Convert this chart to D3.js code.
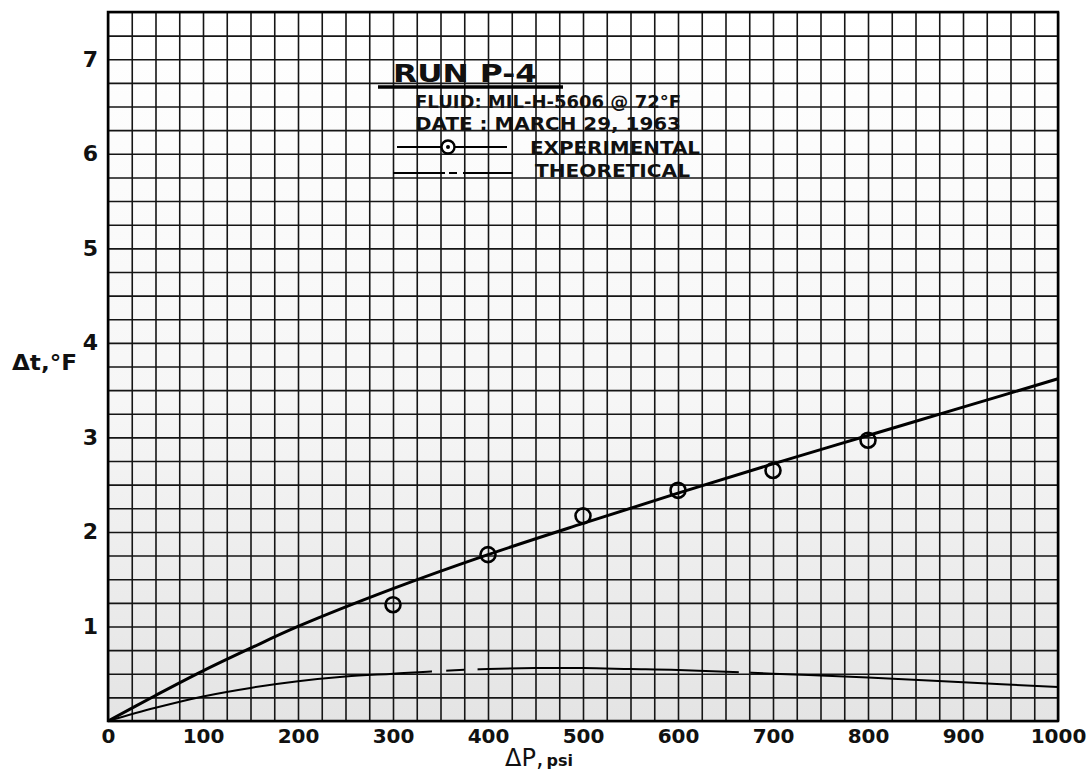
<!DOCTYPE html>
<html>
<head>
<meta charset="utf-8">
<script src="https://cdn.jsdelivr.net/npm/d3@7"></script>
<style>
  body { margin: 0; background: #fff; }
  text { font-family: "DejaVu Sans", sans-serif; fill: #111; }
</style>
</head>
<body>
<div id="chart"></div>
<script>
// Run P-4 : temperature rise vs pressure drop
var pressureTicks = [0, 100, 200, 300, 400, 500, 600, 700, 800, 900, 1000];
var tempTicks = [1, 2, 3, 4, 5, 6, 7];

// experimental points (circles)
var expPressure = [300, 400, 500, 600, 700, 800];
var expTemp = [1.23, 1.76, 2.17, 2.44, 2.65, 2.97];

// faired curve through the experimental data
var fitPressure = [0, 50, 100, 150, 200, 300, 400, 500, 600, 700, 800, 900, 1000];
var fitTemp = [0, 0.27, 0.53, 0.77, 1.0, 1.40, 1.76, 2.09, 2.41, 2.72, 3.02, 3.32, 3.62];

// theoretical curve
var theoPressure = [0, 50, 100, 150, 200, 250, 300, 350, 400, 450, 500, 550, 600, 700, 800, 900, 1000];
var theoTemp = [0, 0.14, 0.26, 0.35, 0.42, 0.47, 0.50, 0.53, 0.55, 0.56, 0.56, 0.55, 0.54, 0.50, 0.46, 0.41, 0.36];
// pieces of the theoretical line that were actually inked (psi ranges)
var theoPieces = [[0, 341], [356, 375], [389, 664], [676, 1000]];

var margin = {top: 12, right: 30, bottom: 55, left: 108},
    width = 1088 - margin.left - margin.right,
    height = 776 - margin.top - margin.bottom;

var x = d3.scaleLinear().domain([0, 1000]).range([0, width]);
var y = d3.scaleLinear().domain([0, 7.5]).range([height, 0]);

var svg = d3.select("#chart").append("svg")
    .attr("width", 1088)
    .attr("height", 776)
  .append("g")
    .attr("transform", "translate(" + margin.left + "," + margin.top + ")");

// paper tint, darker toward the bottom like the scan
var defs = svg.append("defs");
var grad = defs.append("linearGradient")
    .attr("id", "paper")
    .attr("x1", 0).attr("y1", 0).attr("x2", 0).attr("y2", 1);
grad.append("stop").attr("offset", "0%").attr("stop-color", "#ffffff");
grad.append("stop").attr("offset", "55%").attr("stop-color", "#f6f6f6");
grad.append("stop").attr("offset", "100%").attr("stop-color", "#e4e4e4");

svg.append("rect")
    .attr("width", width)
    .attr("height", height)
    .style("fill", "url(#paper)");

// graph paper grid: 25 psi by 0.25 deg
svg.append("g")
    .attr("class", "grid-x")
    .attr("transform", "translate(0," + height + ")")
    .call(d3.axisBottom(x).tickValues(d3.range(0, 1001, 25)).tickSize(-height).tickFormat(""))
    .call(function(g) { g.select(".domain").remove(); })
    .selectAll("line")
        .style("stroke", "#151515")
        .style("stroke-width", 1.6);

svg.append("g")
    .attr("class", "grid-y")
    .call(d3.axisLeft(y).tickValues(d3.range(0, 7.51, 0.25)).tickSize(-width).tickFormat(""))
    .call(function(g) { g.select(".domain").remove(); })
    .selectAll("line")
        .style("stroke", "#151515")
        .style("stroke-width", 1.6);

svg.append("rect")
    .attr("width", width)
    .attr("height", height)
    .style("fill", "none")
    .style("stroke", "#000")
    .style("stroke-width", 2.5);

// tick labels
svg.append("g")
    .attr("transform", "translate(0," + height + ")")
    .call(d3.axisBottom(x).tickValues(pressureTicks).tickSize(0).tickPadding(7).tickFormat(d3.format("d")))
    .call(function(g) { g.select(".domain").remove(); })
    .selectAll("text")
        .style("font-size", "20px")
        .style("font-weight", "bold")
        .attr("dy", "0.75em");

svg.append("g")
    .call(d3.axisLeft(y).tickValues(tempTicks).tickSize(0).tickPadding(10).tickFormat(d3.format("d")))
    .call(function(g) { g.select(".domain").remove(); })
    .selectAll("text")
        .style("font-size", "22px")
        .style("font-weight", "bold");

// axis titles
svg.append("text")
    .attr("x", 12 - margin.left)
    .attr("y", 370 - margin.top)
    .attr("textLength", 65)
    .attr("lengthAdjust", "spacingAndGlyphs")
    .style("font-size", "22px")
    .style("font-weight", "bold")
    .text("\u0394t,\u00b0F");

var xt = svg.append("text")
    .attr("x", 505 - margin.left)
    .attr("y", 766 - margin.top);
xt.append("tspan").style("font-size", "24px").text("\u0394P,");
xt.append("tspan").style("font-size", "16px").style("font-weight", "bold").attr("dx", 3).text("psi");

// faired experimental curve
var fitData = fitPressure.map(function(p, i) { return {p: p, t: fitTemp[i]}; });
var line = d3.line()
    .x(function(d) { return x(d.p); })
    .y(function(d) { return y(d.t); })
    .curve(d3.curveCatmullRom.alpha(0.5));

svg.append("path")
    .datum(fitData)
    .attr("d", line)
    .style("fill", "none")
    .style("stroke", "#000")
    .style("stroke-width", 3);

// theoretical curve, clipped into the drawn pieces
var clip = defs.append("clipPath").attr("id", "theo-clip");
clip.selectAll("rect")
    .data(theoPieces)
  .enter().append("rect")
    .attr("x", function(d) { return x(d[0]); })
    .attr("width", function(d) { return x(d[1]) - x(d[0]); })
    .attr("y", -5)
    .attr("height", height + 10);

var theoData = theoPressure.map(function(p, i) { return {p: p, t: theoTemp[i]}; });
svg.append("path")
    .datum(theoData)
    .attr("d", line)
    .attr("clip-path", "url(#theo-clip)")
    .style("fill", "none")
    .style("stroke", "#000")
    .style("stroke-width", 2);

// experimental points
var expData = expPressure.map(function(p, i) { return {p: p, t: expTemp[i]}; });
svg.selectAll(".pt")
    .data(expData)
  .enter().append("circle")
    .attr("class", "pt")
    .attr("cx", function(d) { return x(d.p); })
    .attr("cy", function(d) { return y(d.t); })
    .attr("r", 7.5)
    .style("fill", "none")
    .style("stroke", "#000")
    .style("stroke-width", 2.6);

// legend block (page coordinates)
var leg = svg.append("g")
    .attr("transform", "translate(" + (-margin.left) + "," + (-margin.top) + ")");

leg.append("text")
    .attr("x", 393).attr("y", 82)
    .attr("textLength", 144)
    .attr("lengthAdjust", "spacingAndGlyphs")
    .style("font-size", "24px")
    .style("font-weight", "bold")
    .text("RUN  P-4");

leg.append("line")
    .attr("x1", 378).attr("x2", 563)
    .attr("y1", 87).attr("y2", 87)
    .style("stroke", "#000")
    .style("stroke-width", 3.5);

var legendLines = [
    {text: "FLUID: MIL-H-5606 @ 72\u00b0F", x: 415, y: 108, w: 266},
    {text: "DATE : MARCH 29, 1963", x: 415, y: 130, w: 266},
    {text: "EXPERIMENTAL", x: 530, y: 154, w: 170},
    {text: "THEORETICAL", x: 535, y: 177, w: 155}
];

leg.selectAll(".legtext")
    .data(legendLines)
  .enter().append("text")
    .attr("class", "legtext")
    .attr("x", function(d) { return d.x; })
    .attr("y", function(d) { return d.y; })
    .attr("textLength", function(d) { return d.w; })
    .attr("lengthAdjust", "spacingAndGlyphs")
    .style("font-size", "17px")
    .style("font-weight", "bold")
    .text(function(d) { return d.text; });

// experimental legend sample
leg.append("line")
    .attr("x1", 397).attr("x2", 507)
    .attr("y1", 147).attr("y2", 147)
    .style("stroke", "#000").style("stroke-width", 2);
leg.append("circle")
    .attr("cx", 448).attr("cy", 147).attr("r", 6.5)
    .style("fill", "#fff").style("stroke", "#000").style("stroke-width", 2.4);
leg.append("circle")
    .attr("cx", 448).attr("cy", 147).attr("r", 2)
    .style("fill", "#000");

// theoretical legend sample
var theoSample = [[393, 445], [449, 457], [463, 513]];
leg.selectAll(".theosample")
    .data(theoSample)
  .enter().append("line")
    .attr("class", "theosample")
    .attr("x1", function(d) { return d[0]; })
    .attr("x2", function(d) { return d[1]; })
    .attr("y1", 173).attr("y2", 173)
    .style("stroke", "#000").style("stroke-width", 2);
</script>
</body>
</html>
